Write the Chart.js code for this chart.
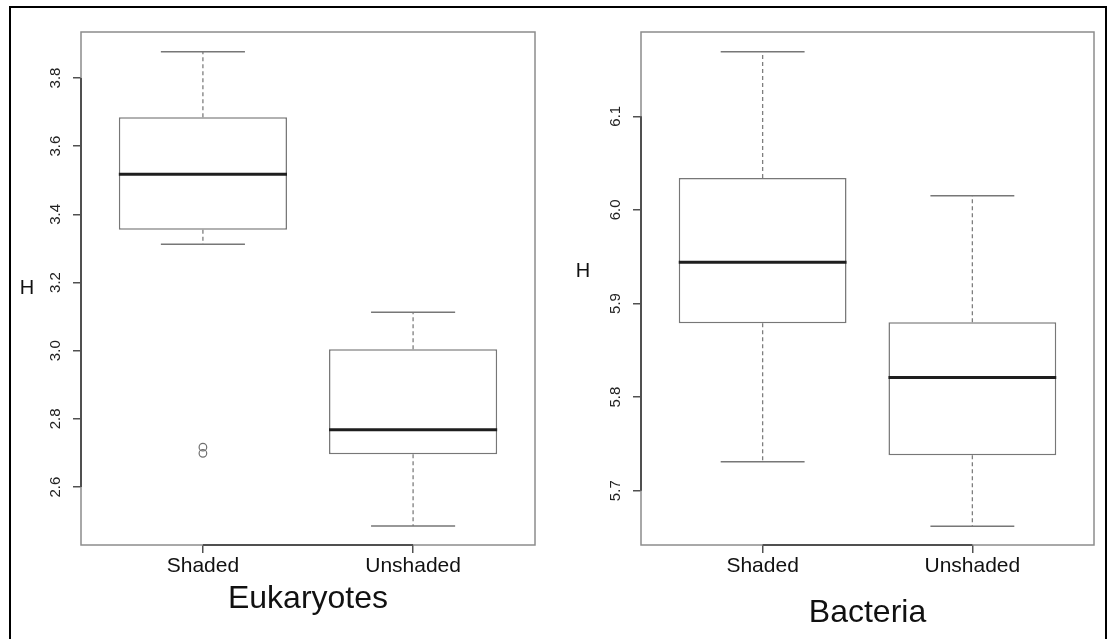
<!DOCTYPE html>
<html>
<head>
<meta charset="utf-8">
<script src="https://cdn.jsdelivr.net/npm/chart.js@4.4.1/dist/chart.umd.min.js"></script>
<style>
html,body{margin:0;padding:0;background:#fff;overflow:hidden;width:1114px;height:639px;}
#frame{position:absolute;left:9px;top:6px;width:1094px;height:700px;border:2px solid #000;}
#euk{position:absolute;left:0;top:0;}
#bac{position:absolute;left:560px;top:0;}
</style>
</head>
<body>
<div id="frame"></div>
<canvas id="euk" width="560" height="639"></canvas>
<canvas id="bac" width="554" height="639"></canvas>
<script>
// groups on the x axis
var categories = ['Shaded', 'Unshaded'];

// Eukaryotes: Shannon diversity H
var eukMin    = [3.312, 2.486];
var eukQ1     = [3.355, 2.696];
var eukMedian = [3.518, 2.768];
var eukQ3     = [3.685, 3.004];
var eukMax    = [3.877, 3.113];
var eukOutliers   = [2.717, 2.699];
var eukOutlierCat = ['Shaded', 'Shaded'];
var eukTicks  = [2.6, 2.8, 3.0, 3.2, 3.4, 3.6, 3.8];
var eukRange  = [2.430, 3.935];

// Bacteria: Shannon diversity H
var bacMin    = [5.731, 5.662];
var bacQ1     = [5.879, 5.738];
var bacMedian = [5.944, 5.821];
var bacQ3     = [6.034, 5.880];
var bacMax    = [6.169, 6.015];
var bacOutliers   = [];
var bacOutlierCat = [];
var bacTicks  = [5.7, 5.8, 5.9, 6.0, 6.1];
var bacRange  = [5.642, 6.190];

var FONT = "'Liberation Sans', Arial, sans-serif";
var xTicks = categories.map(function (c, i) { return i + 1; });

function boxPlugin(st, hx, hy)
{
  return {
    id: 'rbox',
    afterDatasetsDraw: function (chart) {
      var ctx = chart.ctx, x = chart.scales.x, y = chart.scales.y, a = chart.chartArea;
      ctx.save();
      for (var i = 0; i < st.median.length; i++) {
        var cx = x.getPixelForValue(i + 1);
        var hw = x.getPixelForValue(i + 1.4) - cx;
        var cw = hw / 2;
        // dashed whiskers
        ctx.strokeStyle = '#7e7e7e';
        ctx.lineWidth = 1.3;
        ctx.setLineDash([4, 3]);
        ctx.beginPath();
        ctx.moveTo(cx, y.getPixelForValue(st.q3[i]));
        ctx.lineTo(cx, y.getPixelForValue(st.max[i]));
        ctx.moveTo(cx, y.getPixelForValue(st.q1[i]));
        ctx.lineTo(cx, y.getPixelForValue(st.min[i]));
        ctx.stroke();
        ctx.setLineDash([]);
        // caps
        ctx.strokeStyle = '#777';
        ctx.lineWidth = 1.5;
        ctx.beginPath();
        ctx.moveTo(cx - cw, y.getPixelForValue(st.max[i]));
        ctx.lineTo(cx + cw, y.getPixelForValue(st.max[i]));
        ctx.moveTo(cx - cw, y.getPixelForValue(st.min[i]));
        ctx.lineTo(cx + cw, y.getPixelForValue(st.min[i]));
        ctx.stroke();
        // median
        ctx.strokeStyle = '#1e1e1e';
        ctx.lineWidth = 3;
        ctx.beginPath();
        ctx.moveTo(cx - hw, y.getPixelForValue(st.median[i]));
        ctx.lineTo(cx + hw, y.getPixelForValue(st.median[i]));
        ctx.stroke();
      }
      // plot frame
      ctx.strokeStyle = '#8c8c8c';
      ctx.lineWidth = 1.5;
      ctx.strokeRect(a.left, a.top, a.right - a.left, a.bottom - a.top);
      // axis lines from first to last tick
      ctx.strokeStyle = '#505050';
      ctx.lineWidth = 2;
      ctx.beginPath();
      ctx.moveTo(a.left, y.getPixelForValue(y.ticks[0].value));
      ctx.lineTo(a.left, y.getPixelForValue(y.ticks[y.ticks.length - 1].value));
      ctx.moveTo(x.getPixelForValue(x.ticks[0].value), a.bottom);
      ctx.lineTo(x.getPixelForValue(x.ticks[x.ticks.length - 1].value), a.bottom);
      ctx.stroke();
      // y label
      ctx.fillStyle = '#111';
      ctx.font = '20px ' + FONT;
      ctx.textAlign = 'center';
      ctx.textBaseline = 'middle';
      ctx.fillText('H', hx, hy);
      ctx.restore();
    }
  };
}

function makeChart(id, st, outliers, outlierCat, ticks, range, title, titlePad, padRight, hx, hy)
{
  var c = document.getElementById(id).getContext('2d');
  return new Chart(c, {
    type: 'bar',
    data: {
      datasets: [
        {
          type: 'bar',
          data: categories.map(function (cat, i) { return { x: i + 1, y: [st.q1[i], st.q3[i]] }; }),
          backgroundColor: '#ffffff',
          borderColor: '#777',
          borderWidth: 1.5,
          borderSkipped: false,
          categoryPercentage: 0.8,
          barPercentage: 1
        },
        {
          type: 'scatter',
          data: outliers.map(function (v, i) { return { x: categories.indexOf(outlierCat[i]) + 1, y: v }; }),
          pointStyle: 'circle',
          pointRadius: 3.8,
          borderColor: '#707070',
          borderWidth: 1.2,
          backgroundColor: 'rgba(0,0,0,0)'
        }
      ]
    },
    options: {
      responsive: false,
      animation: false,
      layout: { padding: { left: 31, top: 32, right: padRight, bottom: 0 } },
      plugins: { legend: { display: false }, tooltip: { enabled: false } },
      scales: {
        x: {
          type: 'linear',
          min: 0.42,
          max: 2.58,
          offset: false,
          afterBuildTicks: function (s) { s.ticks = xTicks.map(function (v) { return { value: v }; }); },
          afterFit: function (s) { s.height = 94; },
          grid: { display: true, drawOnChartArea: false, drawTicks: true, tickLength: 8, color: '#505050', lineWidth: 1.5, offset: false },
          border: { display: false },
          ticks: {
            font: { family: FONT, size: 21 },
            color: '#111',
            padding: 1,
            maxRotation: 0,
            autoSkip: false,
            callback: function (v) { return categories[v - 1]; }
          },
          title: {
            display: true,
            text: title,
            font: { family: FONT, size: 32 },
            color: '#111',
            padding: { top: 0, bottom: titlePad }
          }
        },
        y: {
          min: range[0],
          max: range[1],
          afterBuildTicks: function (s) { s.ticks = ticks.map(function (v) { return { value: v }; }); },
          afterFit: function (s) { s.width = 50; },
          grid: { display: true, drawOnChartArea: false, drawTicks: true, tickLength: 8, color: '#505050', lineWidth: 1.5 },
          border: { display: false },
          ticks: {
            font: { family: FONT, size: 15 },
            color: '#222',
            minRotation: 90,
            maxRotation: 90,
            crossAlign: 'center',
            padding: 7,
            callback: function (v) { return Number(v).toFixed(1); }
          }
        }
      }
    },
    plugins: [boxPlugin(st, hx, hy)]
  });
}

makeChart('euk', { min: eukMin, q1: eukQ1, median: eukMedian, q3: eukQ3, max: eukMax },
  eukOutliers, eukOutlierCat, eukTicks, eukRange, 'Eukaryotes', 21, 25, 27, 288);
makeChart('bac', { min: bacMin, q1: bacQ1, median: bacMedian, q3: bacQ3, max: bacMax },
  bacOutliers, bacOutlierCat, bacTicks, bacRange, 'Bacteria', 7, 20, 23, 271);
</script>
</body>
</html>
